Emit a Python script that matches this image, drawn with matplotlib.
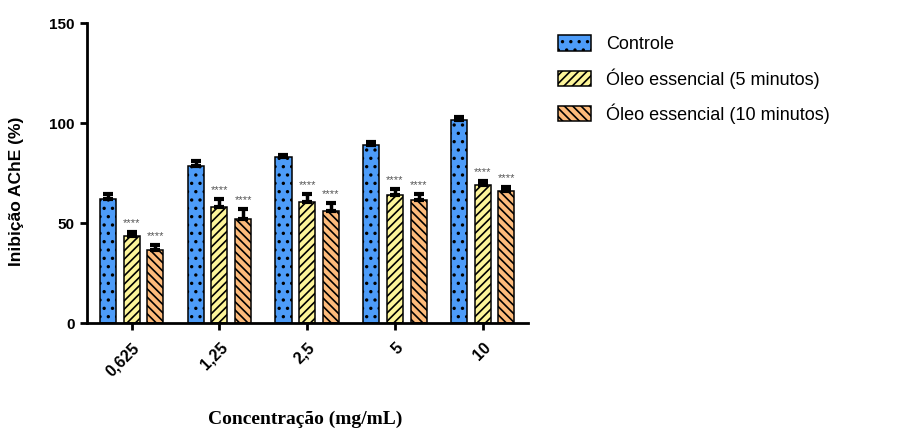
import numpy as np
import matplotlib
matplotlib.use("Agg")
import matplotlib.pyplot as plt

# data
concentrations = ["0,625", "1,25", "2,5", "5", "10"]
series_names = ["Controle", "Óleo essencial (5 minutos)", "Óleo essencial (10 minutos)"]
controle = [62.0, 78.6, 83.0, 89.3, 101.5]
controle_err = [2.5, 2.5, 1.3, 1.2, 1.8]
oleo_5 = [43.6, 58.1, 60.8, 64.2, 69.0]
oleo_5_err = [2.0, 4.0, 4.0, 2.8, 2.0]
oleo_10 = [36.5, 52.0, 56.0, 61.5, 66.2]
oleo_10_err = [2.5, 5.0, 4.0, 3.0, 1.8]
significance = ["****", "****", "****", "****", "****"]

plt.rcParams["font.family"] = ["Liberation Sans", "DejaVu Sans"]
plt.rcParams["hatch.linewidth"] = 1.2

fig = plt.figure(figsize=(9, 4.32), dpi=100)
ax = fig.add_axes([0.097, 0.2516, 0.4897, 0.6944])

x = np.arange(len(concentrations))
width = 0.183
offset = 0.27

styles = [
    dict(color="#4d9cf8", hatch=".."),
    dict(color="#fdf59a", hatch="////"),
    dict(color="#fdbb7b", hatch="\\\\\\\\"),
]
values = [controle, oleo_5, oleo_10]
errors = [controle_err, oleo_5_err, oleo_10_err]

for i, (vals, errs, st, name) in enumerate(zip(values, errors, styles, series_names)):
    pos = x + (i - 1) * offset
    ax.bar(pos, vals, width, color=st["color"], hatch=st["hatch"],
           edgecolor="black", linewidth=1.1, label=name, zorder=2)
    ax.errorbar(pos, vals, yerr=[np.zeros(len(vals)), errs], fmt="none",
                ecolor="black", elinewidth=2.5, capsize=3.5, capthick=3, zorder=3)
    if i > 0:
        for p, v, e, s in zip(pos, vals, errs, significance):
            ax.text(p, v + e + 4.5, s, ha="center", va="center",
                    fontsize=8, color="#555555", zorder=4)

ax.set_xlim(-0.506, 4.517)
ax.set_ylim(0, 150)
ax.set_yticks([0, 50, 100, 150])
ax.set_xticks(x)
ax.set_xticklabels(concentrations, rotation=45, ha="right", rotation_mode="anchor",
                   fontsize=11.5, fontweight="bold")
for lbl in ax.get_yticklabels():
    lbl.set_fontweight("bold")
    lbl.set_fontsize(11)

for side in ["top", "right"]:
    ax.spines[side].set_visible(False)
for side in ["left", "bottom"]:
    ax.spines[side].set_linewidth(2)
ax.tick_params(axis="both", direction="out", length=5, width=2)
ax.tick_params(axis="y", pad=4)
ax.tick_params(axis="x", pad=7)

ax.set_ylabel("Inibição AChE (%)", fontsize=12.5, fontweight="bold", labelpad=12)
ax.yaxis.set_label_coords(-0.143, 0.44)
fig.text(0.339, 0.03, "Concentração (mg/mL)", ha="center", va="center",
         fontsize=14, fontweight="bold", family=["Liberation Serif", "DejaVu Serif"])

fig.legend(loc="upper left", bbox_to_anchor=(0.612, 0.935), frameon=False,
           fontsize=13, handlelength=1.8, handleheight=0.95, handletextpad=0.85,
           labelspacing=0.82, borderaxespad=0)

plt.savefig("out.png", dpi=100)
plt.close()
